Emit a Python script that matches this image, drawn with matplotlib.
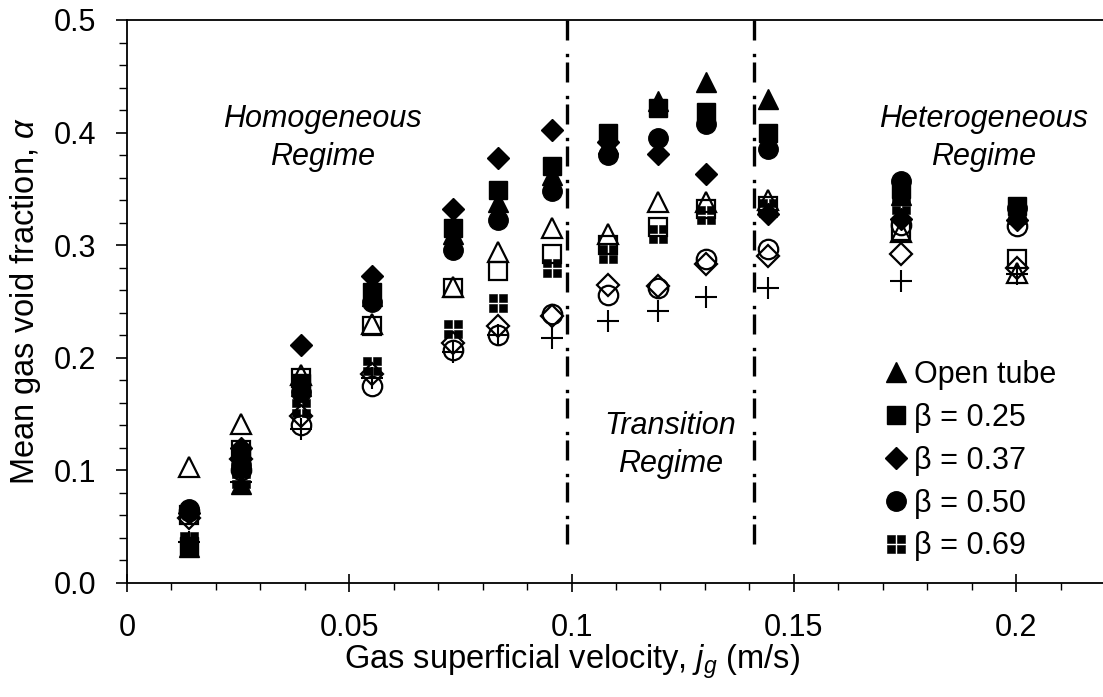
import matplotlib
matplotlib.use("Agg")
import matplotlib.pyplot as plt
from matplotlib.path import Path
from matplotlib.lines import Line2D
from matplotlib.ticker import MultipleLocator, FormatStrFormatter, FuncFormatter

plt.rcParams['font.family'] = ['Liberation Sans', 'DejaVu Sans']
plt.rcParams['mathtext.fontset'] = 'custom'
plt.rcParams['mathtext.it'] = 'Liberation Sans:italic'
plt.rcParams['mathtext.rm'] = 'Liberation Sans'

# ---- data ----
jg = [0.014, 0.0257, 0.0391, 0.0551, 0.0733, 0.0835, 0.0956, 0.1082, 0.1195, 0.1303, 0.1442, 0.174, 0.2002]

open_tube = [0.032, 0.088, 0.175, 0.255, 0.310, 0.338, 0.362, 0.390, 0.428, 0.445, 0.430, 0.345, 0.330]
beta_025 = [0.033, 0.115, 0.178, 0.258, 0.315, 0.349, 0.370, 0.400, 0.422, 0.418, 0.400, 0.350, 0.335]
beta_037 = [0.062, 0.120, 0.211, 0.273, 0.332, 0.377, 0.402, 0.392, 0.381, 0.363, 0.328, 0.323, 0.322]
beta_050 = [0.066, 0.105, 0.170, 0.250, 0.296, 0.322, 0.348, 0.380, 0.395, 0.408, 0.385, 0.357, 0.333]
beta_069 = [0.037, 0.092, 0.155, 0.193, 0.226, 0.249, 0.280, 0.292, 0.310, 0.327, 0.333, 0.336, 0.327]

open_tube_b = [0.103, 0.141, 0.185, 0.230, 0.263, 0.294, 0.315, 0.310, 0.338, 0.338, 0.340, 0.312, 0.275]
beta_025_b = [0.060, 0.118, 0.182, 0.228, 0.262, 0.277, 0.292, 0.300, 0.316, 0.332, 0.335, 0.313, 0.288]
beta_037_b = [0.058, 0.110, 0.148, 0.186, 0.213, 0.228, 0.237, 0.265, 0.264, 0.283, 0.290, 0.292, 0.280]
beta_050_b = [0.064, 0.100, 0.140, 0.175, 0.207, 0.220, 0.239, 0.256, 0.262, 0.288, 0.297, 0.318, 0.317]
beta_069_b = [0.036, 0.090, 0.137, 0.182, 0.205, 0.220, 0.218, 0.233, 0.242, 0.254, 0.262, 0.268, 0.274]

legend_labels = ['Open tube', 'β = 0.25', 'β = 0.37', 'β = 0.50', 'β = 0.69']
regime_bounds = [0.099, 0.141]

FS = 22
LFS = 23.5


def quad_marker(g=0.14):
    verts, codes = [], []
    for (x0, x1) in [(-1, -g), (g, 1)]:
        for (y0, y1) in [(-1, -g), (g, 1)]:
            verts += [(x0, y0), (x1, y0), (x1, y1), (x0, y1), (x0, y0)]
            codes += [Path.MOVETO, Path.LINETO, Path.LINETO, Path.LINETO, Path.CLOSEPOLY]
    return Path(verts, codes)


QM = quad_marker()

fig = plt.figure(figsize=(11.03, 6.97), dpi=100)
ax = fig.add_axes([127 / 1103, 114 / 697, 978 / 1103, 563 / 697])

ms = {'^': 15, 's': 13, 'D': 11, 'o': 14, QM: 13}
filled = [(open_tube, '^'), (beta_025, 's'), (beta_037, 'D'), (beta_050, 'o'), (beta_069, QM)]
hollow = [(open_tube_b, '^'), (beta_025_b, 's'), (beta_037_b, 'D'), (beta_050_b, 'o')]

for y, m in filled:
    ax.plot(jg, y, linestyle='none', marker=m, markersize=ms[m], markerfacecolor='black',
            markeredgecolor='black', markeredgewidth=0.4 if m is QM else 1.0, zorder=3)
for y, m in hollow:
    ax.plot(jg, y, linestyle='none', marker=m, markersize=ms[m], markerfacecolor='none',
            markeredgecolor='black', markeredgewidth=1.6, zorder=4)
ax.plot(jg, beta_069_b, linestyle='none', marker='+', markersize=16, markeredgecolor='black',
        markeredgewidth=1.5, zorder=4)

for xb in regime_bounds:
    ax.plot([xb, xb], [0.035, 0.5], color='black', linewidth=2.4,
            linestyle=(0, (6.0, 1.6, 1.0, 4.0)), zorder=2)

ax.set_xlim(0, 0.22)
ax.set_ylim(0, 0.5)
ax.xaxis.set_major_locator(MultipleLocator(0.05))
ax.xaxis.set_minor_locator(MultipleLocator(0.01))
ax.yaxis.set_major_locator(MultipleLocator(0.1))
ax.yaxis.set_minor_locator(MultipleLocator(0.02))
ax.xaxis.set_major_formatter(FuncFormatter(lambda v, p: '0' if abs(v) < 1e-9 else ('%g' % round(v, 3))))
ax.yaxis.set_major_formatter(FormatStrFormatter('%.1f'))

for s in ax.spines.values():
    s.set_linewidth(1.3)
ax.spines['right'].set_visible(False)

ax.tick_params(axis='x', which='major', direction='inout', length=13, width=1.2, labelsize=FS, pad=15)
ax.tick_params(axis='x', which='minor', direction='out', length=5, width=1.0)
ax.tick_params(axis='y', which='major', direction='out', length=8, width=1.2, labelsize=FS, pad=14)
ax.tick_params(axis='y', which='minor', direction='out', length=6, width=1.0)

ax.set_xlabel('Gas superficial velocity, $j_g$ (m/s)', fontsize=LFS)
ax.xaxis.set_label_coords((572 - 127) / 978, -0.105)
ax.set_ylabel('Mean gas void fraction, $\\alpha$', fontsize=LFS, labelpad=8)

tkw = dict(fontsize=FS, style='italic', ha='center', va='center', linespacing=1.35)
ax.text(0.044, 0.395, 'Homogeneous\nRegime', **tkw)
ax.text(0.1222, 0.1226, 'Transition\nRegime', **tkw)
ax.text(0.1926, 0.395, 'Heterogeneous\nRegime', **tkw)

handles = []
for y, m in filled:
    handles.append(Line2D([], [], linestyle='none', marker=m, markersize=ms[m],
                          markerfacecolor='black', markeredgecolor='black',
                          markeredgewidth=0.4 if m is QM else 1.0))
ax.legend(handles, legend_labels, loc='upper left', bbox_to_anchor=(0.777, 0.396),
          frameon=False, fontsize=FS, handlelength=0.6, handletextpad=0.3,
          labelspacing=0.42, borderpad=0, borderaxespad=0)

fig.savefig('out.png', dpi=100)
